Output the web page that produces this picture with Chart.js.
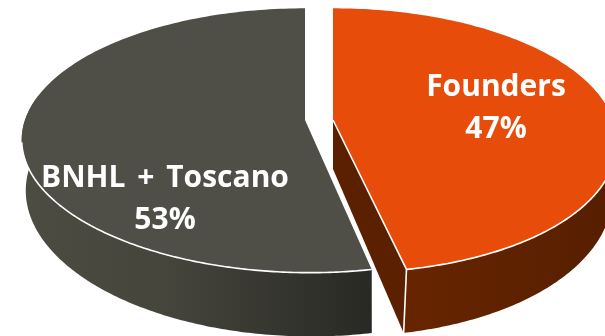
<!DOCTYPE html>
<html>
<head>
<meta charset="utf-8">
<style>
  html, body { margin: 0; padding: 0; background: #fff; overflow: hidden; }
  canvas { display: block; }
</style>
</head>
<body>
<canvas id="share-chart" width="605" height="336"></canvas>
<script src="https://cdn.jsdelivr.net/npm/chart.js@4/dist/chart.umd.js"></script>
<script>
const categories = ['Founders', 'BNHL + Toscano'];
const shares = [47, 53];
const topColors = ['#e84c0a', '#4f4f47'];

// --- Projection of the flat pie onto a tilted disc ---
const perspective = 0.155;
const centerX = 319;
const explodeX = [14, -14];
// lean pushes the near side of each slice to the right, one entry per slice
const topRing = { cy: 120, rx: 280, ry: 129, lean: [12, 5] };
const bottomRing = { cy: 169, rx: 276, ry: 141.5, lean: [10, 6] };

function project(angle, ring, index) {
    const u = Math.cos(angle);
    const v = Math.sin(angle);
    const s = 1 / (1 - perspective * v);
    const lean = v > 0 ? ring.lean[index] * v * v : 0;
    return {
        x: centerX + explodeX[index] + ring.rx * u * s + lean,
        y: ring.cy + ring.ry * v * s
    };
}

function tracePoints(ctx, points, first) {
    points.forEach((p, i) => {
        if (i === 0 && first) ctx.moveTo(p.x, p.y);
        else ctx.lineTo(p.x, p.y);
    });
}

function rimPoints(start, end, ring, index) {
    const steps = 160;
    const points = [];
    for (let i = 0; i <= steps; i++) {
        points.push(project(start + (end - start) * i / steps, ring, index));
    }
    return points;
}

function sideGradient(ctx, stops) {
    const g = ctx.createLinearGradient(20, 0, 605, 0);
    stops.forEach(([at, color]) => g.addColorStop(at, color));
    return g;
}

function drawSlice(ctx, arc, index) {
    const hubX = centerX + explodeX[index];
    const start = arc.startAngle;
    const end = arc.endAngle;
    const isOrange = index === 0;

    // Cut face, only the first slice shows one
    if (isOrange) {
        const cTop = { x: hubX, y: topRing.cy };
        const cBottom = { x: hubX, y: bottomRing.cy };
        ctx.beginPath();
        tracePoints(ctx, [cTop, project(end, topRing, index), project(end, bottomRing, index), cBottom], true);
        ctx.closePath();
        ctx.fillStyle = '#5a2000';
        ctx.fill();
    }

    // Outer wall, visible only on the near half
    const wallStart = Math.max(start, -0.05);
    const wallEnd = Math.min(end, Math.PI + 0.2);
    ctx.beginPath();
    tracePoints(ctx, rimPoints(wallStart, wallEnd, topRing, index), true);
    tracePoints(ctx, rimPoints(wallEnd, wallStart, bottomRing, index), false);
    ctx.closePath();
    ctx.fillStyle = isOrange
        ? sideGradient(ctx, [[0, '#662400'], [0.7, '#662400'], [1, '#561f00']])
        : sideGradient(ctx, [[0, '#4c4c42'], [0.25, '#45453c'], [0.6, '#282924']]);
    ctx.fill();

    // Top face
    ctx.beginPath();
    ctx.moveTo(hubX, topRing.cy);
    tracePoints(ctx, rimPoints(start, end, topRing, index), false);
    ctx.closePath();
    ctx.fillStyle = arc.options.backgroundColor;
    ctx.fill();

    // White edge between the top face and the wall, stops short of the far half
    const edgeEnd = Math.min(end, Math.PI - 0.17);
    ctx.beginPath();
    tracePoints(ctx, rimPoints(wallStart, edgeEnd, topRing, index), true);
    ctx.strokeStyle = '#ffffff';
    ctx.lineWidth = 1.6;
    ctx.stroke();

    if (isOrange) {
        const a = project(end, topRing, index);
        const b = project(end, bottomRing, index);
        ctx.beginPath();
        ctx.moveTo(a.x, a.y);
        ctx.lineTo(b.x, b.y);
        ctx.moveTo(hubX, topRing.cy);
        ctx.lineTo(a.x, a.y);
        ctx.stroke();
    }
}

const tiltedPie = {
    id: 'tiltedPie',
    // Replaces the flat arcs, the angles still come from the pie controller
    beforeDatasetsDraw(chart) {
        const ctx = chart.ctx;
        const arcs = chart.getDatasetMeta(0).data;
        ctx.save();
        ctx.lineJoin = 'round';
        drawSlice(ctx, arcs[1], 1);
        drawSlice(ctx, arcs[0], 0);
        ctx.restore();
        return false;
    },
    afterDraw(chart) {
        const ctx = chart.ctx;
        const labelPos = [[496, 87, 129], [165, 178, 220]];
        ctx.save();
        ctx.fillStyle = '#ffffff';
        ctx.font = '700 30px "Open Sans"';
        ctx.wordSpacing = '4px';
        ctx.textAlign = 'center';
        ctx.textBaseline = 'middle';
        categories.forEach((name, i) => {
            const [x, y1, y2] = labelPos[i];
            ctx.fillText(name, x, y1);
            ctx.fillText(shares[i] + '%', x, y2);
        });
        ctx.restore();
    }
};

new Chart(document.getElementById('share-chart'), {
    type: 'pie',
    data: {
        labels: categories,
        datasets: [{ data: shares, backgroundColor: topColors, borderWidth: 0 }]
    },
    options: {
        responsive: false,
        animation: false,
        plugins: { legend: { display: false }, tooltip: { enabled: false } }
    },
    plugins: [tiltedPie]
});
</script>
</body>
</html>
